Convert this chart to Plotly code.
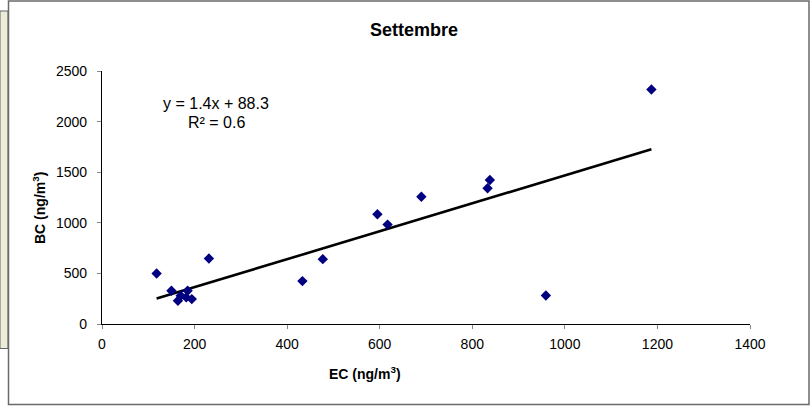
import plotly.graph_objects as go

# Data
ec = [118, 150, 164, 170, 182, 185, 194, 231, 433, 477, 595, 617, 690, 833, 838, 959, 1187]
bc = [499, 328, 230, 279, 263, 328, 246, 647, 424, 641, 1085, 982, 1258, 1341, 1423, 282, 2317]

# Linear trendline (as drawn)
trend_slope = 1.38
trend_intercept = 88.3
trend_x = [min(ec), max(ec)]
trend_y = [trend_slope * v + trend_intercept for v in trend_x]

title_text = "Settembre"
x_title = "EC (ng/m<sup>3</sup>)"
y_title = "BC (ng/m<sup>3</sup>)"
eq_text = "y = 1.4x + 88.3"
r2_text = "R² = 0.6"

FONT = "Liberation Sans, Arial, sans-serif"

fig = go.Figure()
fig.add_trace(go.Scatter(x=trend_x, y=trend_y, mode="lines",
                         line=dict(color="black", width=2.6), hoverinfo="skip"))
fig.add_trace(go.Scatter(x=ec, y=bc, mode="markers",
                         marker=dict(symbol="diamond", size=8, color="#000080",
                                     line=dict(width=0))))

L, R, T, B = 102, 61, 71, 82
W, H = 811, 406
pw, ph = W - L - R, H - T - B

def px(xp):
    return (xp - L) / pw

def py(yp):
    return (H - B - yp) / ph

shapes = [
    dict(type="rect", xref="paper", yref="paper", x0=px(0), x1=px(8), y0=py(348.5), y1=py(11),
         fillcolor="#ECECD9", line=dict(color="#666666", width=1), layer="below"),
    dict(type="rect", xref="paper", yref="paper", x0=px(8.5), x1=px(809), y0=py(404.5), y1=py(1),
         fillcolor="white", line=dict(color="#6a6a6a", width=1.5), layer="below"),
]

annotations = [
    dict(text="<b>" + title_text + "</b>", xref="paper", yref="paper", x=px(414), y=py(30),
         xanchor="center", yanchor="middle", showarrow=False,
         font=dict(family=FONT, size=18, color="black")),
    dict(text="<b>" + x_title + "</b>", xref="paper", yref="paper", x=px(365), y=py(373),
         xanchor="center", yanchor="middle", showarrow=False,
         font=dict(family=FONT, size=14, color="black")),
    dict(text="<b>" + y_title + "</b>", xref="paper", yref="paper", x=px(39), y=py(208),
         xanchor="center", yanchor="middle", showarrow=False, textangle=-90,
         font=dict(family=FONT, size=14, color="black")),
    dict(text=eq_text, xref="x", yref="y", x=247, y=2182, xanchor="center", yanchor="middle",
         showarrow=False, font=dict(family=FONT, size=16, color="black")),
    dict(text=r2_text, xref="x", yref="y", x=247, y=1995, xanchor="center", yanchor="middle",
         showarrow=False, font=dict(family=FONT, size=16, color="black")),
]

fig.update_layout(
    width=W, height=H,
    margin=dict(l=L, r=R, t=T, b=B, pad=0),
    paper_bgcolor="white", plot_bgcolor="white",
    showlegend=False,
    shapes=shapes, annotations=annotations,
    font=dict(family=FONT, size=14, color="black"),
)
fig.update_xaxes(range=[0, 1400], dtick=200, tick0=0, showgrid=False, zeroline=False,
                 showline=True, linecolor="black", linewidth=1.3,
                 ticks="outside", ticklen=4, tickcolor="#888888",
                 ticklabelstandoff=3, tickfont=dict(family=FONT, size=14))
fig.update_yaxes(range=[0, 2500], dtick=500, tick0=0, showgrid=False, zeroline=False,
                 showline=True, linecolor="black", linewidth=1.3,
                 ticks="outside", ticklen=4, tickcolor="#888888",
                 ticklabelstandoff=7, tickfont=dict(family=FONT, size=14))

fig.write_html("out.html", config={"displayModeBar": False},
               post_script="document.body.style.margin='0';document.body.style.overflow='hidden';")
